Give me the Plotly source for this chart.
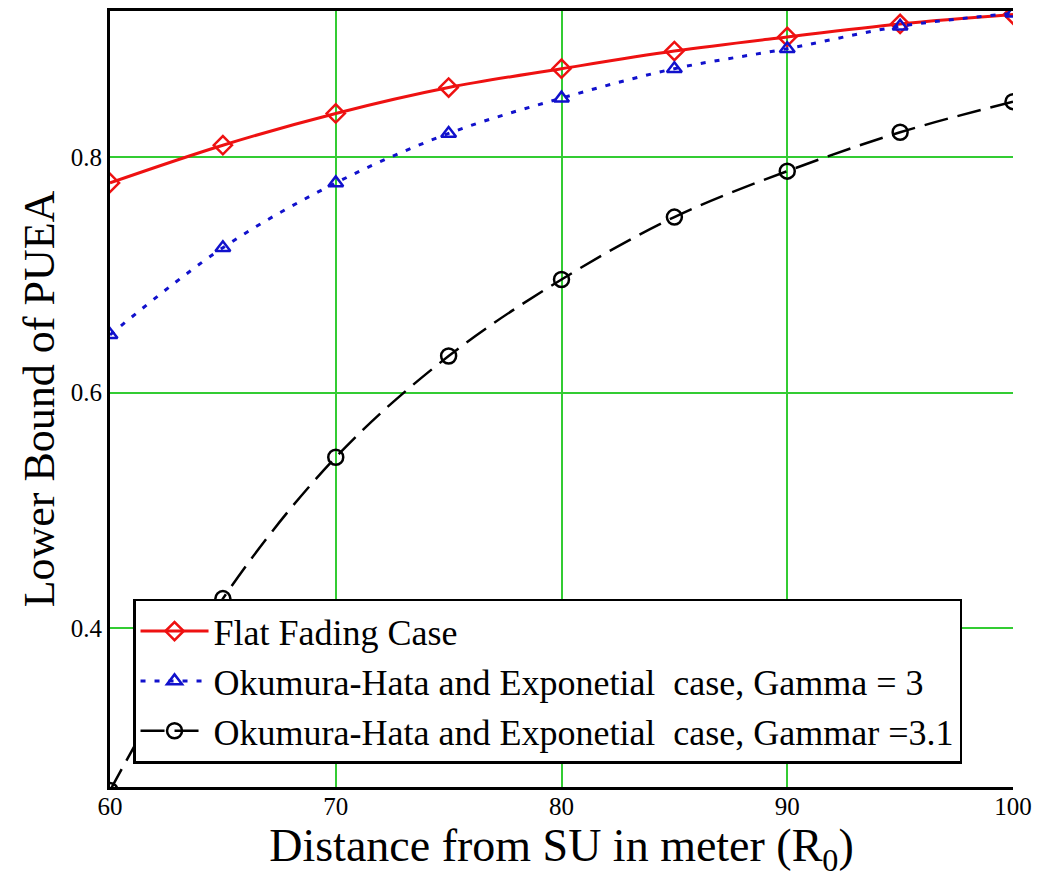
import plotly.graph_objects as go

distance = [60, 65, 70, 75, 80, 85, 90, 95, 100]
flat_fading = [0.778, 0.810, 0.837, 0.859, 0.875, 0.890, 0.902, 0.913, 0.921]
okumura_g3 = [0.649, 0.723, 0.778, 0.820, 0.850, 0.875, 0.892, 0.911, 0.922]
okumura_g31 = [0.262, 0.425, 0.545, 0.631, 0.696, 0.749, 0.788, 0.821, 0.847]

x_ticks = [60, 70, 80, 90, 100]
y_ticks = [0.4, 0.6, 0.8]
y_tick_labels = ["0.4", "0.6", "0.8"]

FONT = "Liberation Serif"
GRID = "#33cc33"

fig = go.Figure()
fig.add_trace(go.Scatter(
    x=distance, y=flat_fading, mode="lines+markers", name="Flat Fading Case",
    line=dict(color="#ee1111", width=3, shape="spline"),
    marker=dict(symbol="diamond-open", size=14, color="#ee1111", line=dict(width=2.5)),
))
fig.add_trace(go.Scatter(
    x=distance, y=okumura_g3, mode="lines+markers",
    name="Okumura-Hata and Exponetial  case, Gamma = 3",
    line=dict(color="#1111cc", width=3, dash="5px,9px", shape="spline"),
    marker=dict(symbol="triangle-up-open", size=13, color="#1111cc", line=dict(width=2.5)),
))
fig.add_trace(go.Scatter(
    x=distance, y=okumura_g31, mode="lines+markers",
    name="Okumura-Hata and Exponetial  case, Gammar =3.1",
    line=dict(color="black", width=2.5, dash="24px,10px", shape="spline"),
    marker=dict(symbol="circle-open", size=15, color="black", line=dict(width=2.5)),
))

fig.update_layout(
    width=1036, height=870,
    margin=dict(l=102, r=31, t=0, b=91),
    paper_bgcolor="white", plot_bgcolor="white",
    font=dict(family=FONT, color="black"),
    showlegend=True,
    legend=dict(
        x=0.0255, y=0.03, xanchor="left", yanchor="bottom",
        bgcolor="white", bordercolor="black", borderwidth=2.5,
        font=dict(family=FONT, size=36, color="black"),
        itemwidth=68, tracegroupgap=0,
    ),
)
fig.update_xaxes(
    range=[60, 100], tickvals=x_ticks, ticks="",
    tickfont=dict(size=25, family=FONT), ticklabelstandoff=-5,
    showgrid=True, gridcolor=GRID, gridwidth=1.5,
    showline=True, linecolor="black", linewidth=3, mirror=True,
    zeroline=False,
    title=dict(text="Distance from SU in meter (R<sub>0</sub>)",
               font=dict(size=46, family=FONT), standoff=12),
)
fig.update_yaxes(
    range=[0.265, 0.924], tickvals=y_ticks, ticktext=y_tick_labels, ticks="",
    tickfont=dict(size=25, family=FONT),
    showgrid=True, gridcolor=GRID, gridwidth=1.5,
    showline=True, linecolor="black", linewidth=3, mirror=False,
    zeroline=False,
    title=dict(text="Lower Bound of PUEA", font=dict(size=44, family=FONT), standoff=3),
)

fig.write_html("out.html")
